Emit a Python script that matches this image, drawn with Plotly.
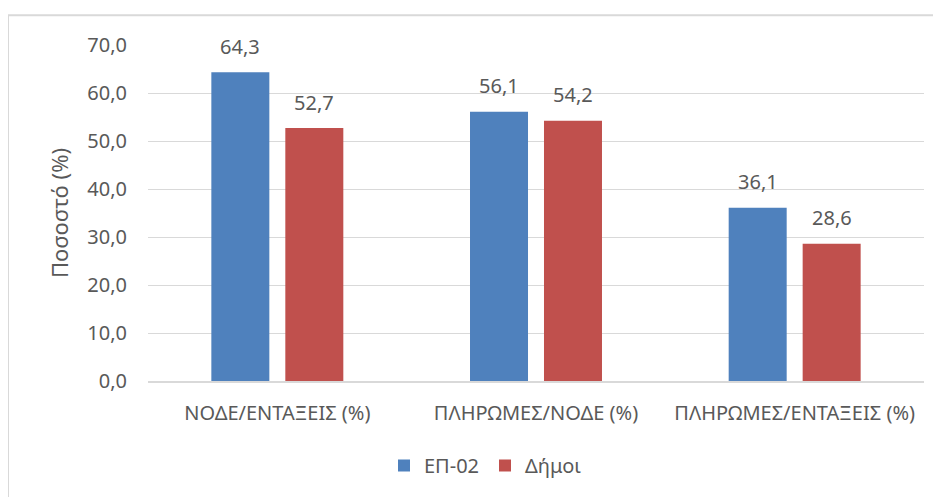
import plotly.graph_objects as go

categories = ["ΝΟΔΕ/ΕΝΤΑΞΕΙΣ (%)", "ΠΛΗΡΩΜΕΣ/ΝΟΔΕ (%)", "ΠΛΗΡΩΜΕΣ/ΕΝΤΑΞΕΙΣ (%)"]
ep02 = [64.3, 56.1, 36.1]
dimoi = [52.7, 54.2, 28.6]
series_names = ["ΕΠ-02", "Δήμοι"]
tick_vals = [0, 10, 20, 30, 40, 50, 60, 70]

FONT = "Noto Sans"
TXT = "#595959"
COLORS = ["#4F81BD", "#C0504D"]

fig = go.Figure()
for name, vals, color in zip(series_names, [ep02, dimoi], COLORS):
    fig.add_trace(go.Bar(
        x=categories, y=vals, name=name,
        marker=dict(color=color, line=dict(width=0)),
        hoverinfo="x+y",
    ))

# data labels above bars (positioned by the axis scales, shifted to each bar of the group)
annotations = []
for shift, vals in zip([-37, 37], [ep02, dimoi]):
    for c, v in zip(categories, vals):
        annotations.append(dict(
            x=c, y=v, xref="x", yref="y", text=f"{v:.1f}".replace(".", ","),
            showarrow=False, xshift=shift, yshift=26, yanchor="middle",
            font=dict(family=FONT, size=20, color=TXT),
        ))

# page has an 8px body margin: compensate
OFF = 8
W, H = 941 - OFF, 497 - OFF
L, R, T, B = 148 - OFF, 17, 45 - OFF, 114
pw, ph = W - L - R, H - T - B

fig.update_layout(
    width=W, height=H,
    margin=dict(l=L, r=R, t=T, b=B),
    paper_bgcolor="white", plot_bgcolor="white",
    separators=",.",
    barmode="group", bargap=0.428, bargroupgap=0.216,
    font=dict(family=FONT, color=TXT, size=20),
    showlegend=True,
    legend=dict(orientation="h", x=(384 - 148) / pw, xanchor="left",
                y=(383 - 468) / ph, yanchor="middle",
                font=dict(family=FONT, size=20, color=TXT), itemwidth=30,
                traceorder="normal", entrywidth=56, entrywidthmode="pixels"),
    yaxis=dict(range=[0, 70], tickvals=tick_vals, tickformat=".1f",
               showgrid=True, gridcolor="#D9D9D9", gridwidth=1.3,
               zeroline=False, showline=False, ticks="",
               ticklabelstandoff=20,
               tickfont=dict(family=FONT, size=20, color=TXT),
               title=dict(text="Ποσοστό (%)", font=dict(family=FONT, size=22, color=TXT), standoff=12)),
    xaxis=dict(showline=True, linecolor="#D9D9D9", linewidth=1.5, ticks="",
               ticklabelstandoff=13,
               tickfont=dict(family=FONT, size=20, color=TXT)),
    annotations=annotations,
    shapes=[dict(type="rect", xref="paper", yref="paper",
                 x0=(8 - 148) / pw, x1=2, y0=-2, y1=(383 - 15) / ph,
                 line=dict(color="#D9D9D9", width=2), fillcolor="rgba(0,0,0,0)", layer="below")],
)

fig.write_html("out.html")
